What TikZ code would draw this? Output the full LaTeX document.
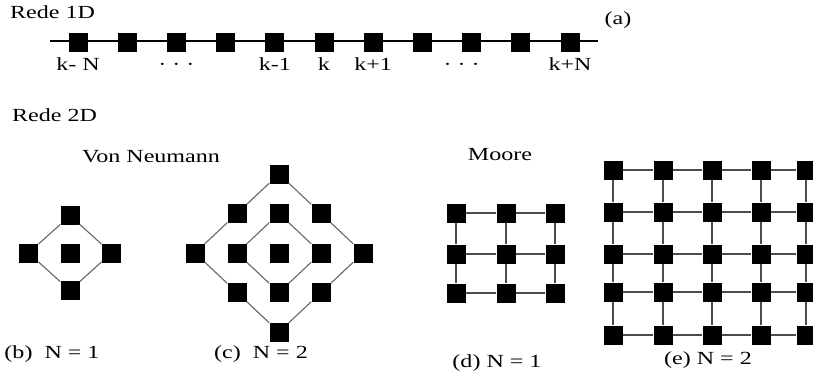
\documentclass[tikz,border=0pt]{standalone}
\usepackage{fontspec}
\setmainfont{Liberation Serif}[FakeStretch=1.3]
\usetikzlibrary{positioning}

\tikzset{
  cell/.style={fill=black, draw=none, minimum size=19pt, inner sep=0pt},
  lbl/.style={font=\fontsize{18.5}{20}\selectfont, inner sep=0pt},
  klbl/.style={lbl, text height=12pt, text depth=0pt},
  vlink/.style={draw=black!60, line width=1.1pt},
  mlink/.style={draw=black!70, line width=1.2pt},
}

\begin{document}
\begin{tikzpicture}[x=1pt, y=-1pt]
    \useasboundingbox (0,0) rectangle (813,380);

    % rede 1D
    \node[lbl, anchor=west] (title1d) at (10,12) {Rede 1D};
    \node[lbl] (capa) at (618,20) {(a)};

    \coordinate (lw) at (50,41);
    \coordinate (le) at (598,41);
    \draw[line width=1.2pt] (lw) -- (le);

    \foreach \i in {0,...,10}
        \node[cell] (s\i) at ({78+49.2*\i},42) {};

    \node[klbl, below=7pt of s0] (lkn) {k- N};
    \node[klbl, below=7pt of s2] (ldots1) {· · ·};
    \node[klbl, below=7pt of s4] (lkm) {k-1};
    \node[klbl, below=7pt of s5] (lk) {k};
    \node[klbl, below=7pt of s6] (lkp) {k+1};
    \node[klbl, below=7pt of s8, xshift=-10pt] (ldots2) {· · ·};
    \node[klbl, below=7pt of s10] (lkpn) {k+N};

    % rede 2D
    \node[lbl, anchor=west] (title2d) at (12,115) {Rede 2D};
    \node[lbl] (vonneumann) at (151,157) {Von Neumann};
    \node[lbl] (moore) at (500,155) {Moore};

    % (b) von Neumann, N = 1
    \node[cell] (b0) at (70,253) {};
    \node[cell, above=18pt of b0] (bt) {};
    \node[cell, below=18pt of b0] (bb) {};
    \node[cell, left=22pt of b0] (bl) {};
    \node[cell, right=22pt of b0] (br) {};
    \draw[vlink] (bt) -- (bl) -- (bb) -- (br) -- (bt);

    % (c) von Neumann, N = 2
    \foreach \p/\q in {2/0, 1/1, 2/1, 3/1, 0/2, 1/2, 2/2, 3/2, 4/2, 1/3, 2/3, 3/3, 2/4}
        \node[cell] (n\p\q) at ({195+42*\p},{174+39.5*\q}) {};
    \draw[vlink] (n20) -- (n11) -- (n02) -- (n13) -- (n24) -- (n33) -- (n42) -- (n31) -- (n20);
    \draw[vlink] (n21) -- (n12) -- (n23) -- (n32) -- (n21);

    % (d) Moore, N = 1
    \foreach \i/\x in {0/456, 1/506, 2/555}
        \foreach \j/\y in {0/213, 1/254, 2/293}
            \node[cell] (d\i\j) at (\x,\y) {};
    \foreach \k in {0,1,2} {
        \draw[mlink] (d0\k) -- (d1\k) -- (d2\k);
        \draw[mlink] (d\k0) -- (d\k1) -- (d\k2);
    }

    % (e) Moore, N = 2
    \foreach \i/\x in {0/613, 1/663, 2/712, 3/761, 4/806}
        \foreach \j/\y in {0/170, 1/212, 2/254, 3/292, 4/335}
            \node[cell] (e\i\j) at (\x,\y) {};
    \foreach \k in {0,...,4} {
        \draw[mlink] (e0\k) -- (e1\k) -- (e2\k) -- (e3\k) -- (e4\k);
        \draw[mlink] (e\k0) -- (e\k1) -- (e\k2) -- (e\k3) -- (e\k4);
    }

    % legendas
    \node[lbl] (capb) at (52,354) {(b)\ \ N = 1};
    \node[lbl] (capc) at (261,354) {(c)\ \ N = 2};
    \node[lbl] (capd) at (497,363) {(d) N = 1};
    \node[lbl] (cape) at (708,360) {(e) N = 2};

\end{tikzpicture}
\end{document}
